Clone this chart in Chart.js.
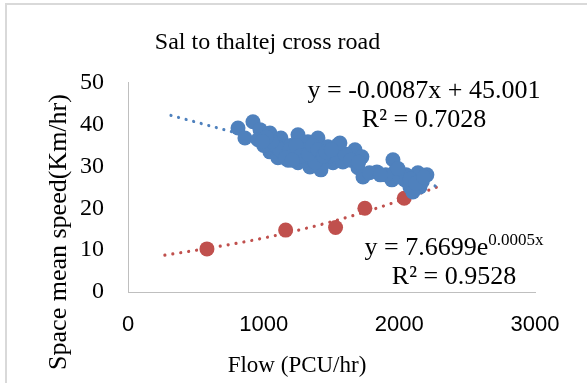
<!DOCTYPE html>
<html>
<head>
<meta charset="utf-8">
<script src="https://cdn.jsdelivr.net/npm/chart.js@4.4.1/dist/chart.umd.min.js"></script>
<style>
  html, body { margin: 0; padding: 0; background: #fff; }
  .wrap { position: relative; width: 587px; height: 383px; }
  .frame { position: absolute; left: 5px; top: 3px; right: 0; bottom: 0;
           border-top: 2px solid #d9d9d9; border-left: 2px solid #d9d9d9; pointer-events: none; }
</style>
</head>
<body>
<div class="wrap">
  <canvas id="speedFlowChart"></canvas>
  <div class="frame"></div>
</div>
<script>
// Observed flow / speed pairs (blue)
const flowObserved = [811, 921, 862, 973, 958, 1046, 1046, 1105, 1127, 1164, 1253, 1253, 1326, 1341, 1400,
                      1422, 1474, 1201, 1304, 1083, 1378, 1548, 1511, 1584, 1673, 1724, 1695, 1732, 1835, 1953,
                      1968, 1945, 2041, 2078, 2137, 2203, 2152, 2100, 1150, 1200, 1250, 1300, 1350, 1420,
                      1450, 1100, 1000, 1180, 1280, 1380, 1480, 1530, 1230, 1320, 1600, 2000, 2050, 1900,
                      1780, 2170, 1562, 1120, 1190, 1240, 1270, 1330, 1360, 1400, 1440, 1460, 1500, 1160,
                      1210, 1060, 1020, 990, 1640, 1700, 1860, 1990, 2080, 2120, 2180];
const speedObserved = [39.2, 40.7, 36.8, 38.8, 36.4, 38.0, 33.5, 32.1, 36.8, 34.7, 37.6, 30.9, 35.9, 29.9, 36.8,
                       29.2, 34.7, 33.5, 33.3, 35.6, 33.3, 35.2, 30.9, 31.1, 34.0, 32.3, 29.7, 27.5, 28.7, 31.6,
                       28.7, 26.8, 26.8, 25.1, 28.5, 28.0, 25.1, 23.9, 33.0, 35.0, 33.5, 31.5, 32.0, 33.0,
                       31.0, 34.5, 35.0, 31.5, 36.0, 31.0, 32.5, 33.0, 32.0, 34.0, 33.0, 27.5, 28.0, 28.0,
                       28.5, 26.5, 35.6, 34.0, 34.0, 35.0, 32.5, 33.0, 35.0, 34.0, 32.5, 33.5, 34.0, 32.0,
                       31.5, 36.0, 37.0, 36.0, 31.5, 31.0, 28.0, 29.5, 27.0, 26.0, 27.5];

// Averaged points (red)
const flowAvg = [582, 1162, 1530, 1746, 2036];
const speedAvg = [10.3, 14.8, 15.4, 20.0, 22.4];

// Trendlines
const linTrendFlow = [317, 2280];
const linTrendSpeed = [42.2, 25.2];
const expTrendFlow = [272, 582, 1000, 1500, 2000, 2280];
const expTrendSpeed = [8.8, 10.4, 12.9, 16.8, 21.8, 25.1];

const chartTitle = 'Sal to thaltej cross road';
const xTitle = 'Flow (PCU/hr)';
const yTitle = 'Space mean speed(Km/hr)';
const linEquation = 'y = -0.0087x + 45.001';
const linR2 = 'R\u00B2 = 0.7028';
const expEquationBase = 'y = 7.6699e';
const expEquationPower = '0.0005x';
const expR2 = 'R\u00B2 = 0.9528';

const BLUE = '#4f81bd';
const RED = '#c0504d';
const SERIF = "'Liberation Serif', 'Times New Roman', serif";
const SANS = "'Liberation Sans', Arial, sans-serif";

function toPoints(xs, ys) {
    return xs.map((x, i) => ({ x: x, y: ys[i] }));
}

// Axis titles and trendline equations (Excel places them off-centre)
const chartTexts = {
    id: 'chartTexts',
    afterDatasetsDraw(chart) {
        const ctx = chart.ctx;
        ctx.save();
        ctx.fillStyle = '#000';

        // axis titles
        ctx.textAlign = 'center';
        ctx.textBaseline = 'middle';
        ctx.font = '23px ' + SERIF;
        ctx.fillText(xTitle, 297, 366);
        ctx.save();
        ctx.translate(59, 232);
        ctx.rotate(-Math.PI / 2);
        ctx.font = '26px ' + SERIF;
        ctx.fillText(yTitle, 0, 0);
        ctx.restore();

        // linear equation
        ctx.textBaseline = 'alphabetic';
        ctx.font = '26px ' + SERIF;
        ctx.fillText(linEquation, 424, 98);
        ctx.fillText(linR2, 424, 127);

        // exponential equation with superscript
        const baseW = ctx.measureText(expEquationBase).width;
        ctx.font = '17px ' + SERIF;
        const powW = ctx.measureText(expEquationPower).width;
        const startX = 454 - (baseW + powW) / 2;
        ctx.textAlign = 'left';
        ctx.font = '26px ' + SERIF;
        ctx.fillText(expEquationBase, startX, 255);
        ctx.font = '17px ' + SERIF;
        ctx.fillText(expEquationPower, startX + baseW, 245);
        ctx.font = '26px ' + SERIF;
        ctx.textAlign = 'center';
        ctx.fillText(expR2, 454, 284);
        ctx.restore();
    }
};

const ctx = document.getElementById('speedFlowChart').getContext('2d');
new Chart(ctx, {
    type: 'scatter',
    data: {
        datasets: [
            {
                label: 'Observed',
                data: toPoints(flowObserved, speedObserved),
                backgroundColor: BLUE,
                borderColor: BLUE,
                borderWidth: 0,
                pointRadius: 7.5,
                pointHoverRadius: 7.5
            },
            {
                label: 'Average',
                data: toPoints(flowAvg, speedAvg),
                backgroundColor: RED,
                borderColor: RED,
                borderWidth: 0,
                pointRadius: 7.5,
                pointHoverRadius: 7.5
            },
            {
                label: 'Linear trend',
                type: 'line',
                data: toPoints(linTrendFlow, linTrendSpeed),
                borderColor: BLUE,
                borderWidth: 3.2,
                borderDash: [0.01, 7.8],
                borderCapStyle: 'round',
                pointRadius: 0,
                fill: false
            },
            {
                label: 'Exponential trend',
                type: 'line',
                data: toPoints(expTrendFlow, expTrendSpeed),
                borderColor: RED,
                borderWidth: 3.2,
                borderDash: [0.01, 8],
                borderCapStyle: 'round',
                cubicInterpolationMode: 'monotone',
                pointRadius: 0,
                fill: false
            }
        ]
    },
    options: {
        responsive: true,
        maintainAspectRatio: false,
        animation: false,
        layout: { padding: { top: 0, right: 52, bottom: 0, left: 0 } },
        plugins: {
            legend: { display: false },
            tooltip: { enabled: false },
            title: {
                display: true,
                text: chartTitle,
                color: '#000',
                font: { family: SERIF, size: 24, weight: 'normal' },
                padding: { top: 28, bottom: 26 }
            }
        },
        scales: {
            x: {
                type: 'linear',
                min: 0,
                max: 3000,
                grid: { display: false, drawTicks: false },
                border: { display: true, color: '#bfbfbf', width: 1 },
                ticks: {
                    stepSize: 1000,
                    color: '#000',
                    padding: 20,
                    maxRotation: 0,
                    font: { family: SANS, size: 22 },
                    callback: (value) => String(value)
                },
                afterFit(scale) { scale.height = 91; }
            },
            y: {
                type: 'linear',
                min: 0,
                max: 50,
                grid: { display: false, drawTicks: false },
                border: { display: true, color: '#bfbfbf', width: 1 },
                ticks: {
                    stepSize: 10,
                    color: '#000',
                    padding: 24,
                    font: { family: SERIF, size: 24 }
                },
                afterFit(scale) { scale.width = 128; }
            }
        }
    },
    plugins: [chartTexts]
});
</script>
</body>
</html>
